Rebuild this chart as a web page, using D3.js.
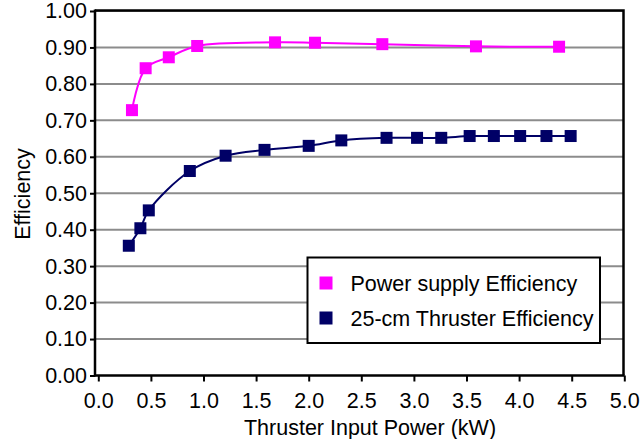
<!DOCTYPE html>
<html>
<head>
<meta charset="utf-8">
<script src="https://cdn.jsdelivr.net/npm/d3@7"></script>
<style>
  html, body { margin: 0; padding: 0; background: #fff; }
  svg { display: block; font-family: "Liberation Sans", Arial, sans-serif; }
</style>
</head>
<body>
<svg id="chart" width="642" height="439"></svg>
<script>
// ---- data ----
const psPower = [0.32, 0.45, 0.67, 0.94, 1.68, 2.06, 2.70, 3.59, 4.38];
const psEff   = [0.728, 0.843, 0.873, 0.904, 0.914, 0.913, 0.909, 0.903, 0.902];
const thPower = [0.29, 0.40, 0.48, 0.87, 1.21, 1.58, 2.00, 2.31, 2.74, 3.03, 3.26, 3.53, 3.76, 4.01, 4.26, 4.49];
const thEff   = [0.356, 0.404, 0.453, 0.561, 0.603, 0.619, 0.630, 0.645, 0.652, 0.652, 0.652, 0.657, 0.657, 0.657, 0.657, 0.657];
const xTicks = [0, 0.5, 1, 1.5, 2, 2.5, 3, 3.5, 4, 4.5, 5];
const yTicks = [0, 0.1, 0.2, 0.3, 0.4, 0.5, 0.6, 0.7, 0.8, 0.9, 1.0];
const seriesNames = ["Power supply Efficiency", "25-cm Thruster Efficiency"];
const seriesColors = ["#ff00ff", "#000066"];
const xTitle = "Thruster Input Power (kW)";
const yTitle = "Efficiency";

const FONT = "'Liberation Sans', Arial, sans-serif";
const svg = d3.select("#chart");
const frame = {left: 95, right: 623.5, top: 10.5, bottom: 375.5};
const x = d3.scaleLinear().domain([0, 5]).range([98.3, 624.3]);
const y = d3.scaleLinear().domain([0, 1]).range([375.5, 11]);

// gridlines
svg.append("g").selectAll("line").data(yTicks.filter(d => d > 0)).join("line")
  .attr("x1", frame.left).attr("x2", frame.right)
  .attr("y1", d => y(d)).attr("y2", d => y(d))
  .attr("stroke", "#8c8c8c").attr("stroke-width", 2);

// frame (top, right)
svg.append("path")
  .attr("d", `M${frame.left},${frame.top}H${frame.right}V${frame.bottom}`)
  .attr("fill", "none").attr("stroke", "#000").attr("stroke-width", 2.5);

// y axis
const yAxis = svg.append("g").attr("transform", `translate(${frame.left},0)`)
  .call(d3.axisLeft(y).tickValues(yTicks).tickFormat(d3.format(".2f")).tickSize(5).tickPadding(3));
yAxis.select(".domain").remove();
yAxis.selectAll("line").attr("stroke", "#000").attr("stroke-width", 2);
yAxis.selectAll("text").attr("font-size", 21.5).attr("fill", "#000").attr("font-family", FONT);

// x axis
const xAxis = svg.append("g").attr("transform", `translate(0,${frame.bottom})`)
  .call(d3.axisBottom(x).tickValues(xTicks).tickFormat(d3.format(".1f")).tickSize(6).tickPadding(11));
xAxis.select(".domain").remove();
xAxis.selectAll("line").attr("stroke", "#000").attr("stroke-width", 2);
xAxis.selectAll("text").attr("font-size", 21.5).attr("fill", "#000").attr("font-family", FONT);

// axis lines
svg.append("line").attr("x1", frame.left).attr("x2", frame.left)
  .attr("y1", frame.top - 1).attr("y2", frame.bottom + 1)
  .attr("stroke", "#000").attr("stroke-width", 2.5);
svg.append("line").attr("x1", frame.left - 1).attr("x2", frame.right + 1)
  .attr("y1", frame.bottom).attr("y2", frame.bottom)
  .attr("stroke", "#000").attr("stroke-width", 2.5);

// series
const series = [
  {xs: psPower, ys: psEff, color: seriesColors[0]},
  {xs: thPower, ys: thEff, color: seriesColors[1]}
];
const line = d3.line().x(d => x(d[0])).y(d => y(d[1])).curve(d3.curveCatmullRom.alpha(0.5));
const ms = 12;
series.forEach(s => {
  const pts = s.xs.map((v, i) => [v, s.ys[i]]);
  svg.append("path").datum(pts).attr("d", line)
    .attr("fill", "none").attr("stroke", s.color).attr("stroke-width", 2);
  svg.append("g").selectAll("rect").data(pts).join("rect")
    .attr("x", d => x(d[0]) - ms / 2).attr("y", d => y(d[1]) - ms / 2)
    .attr("width", ms).attr("height", ms).attr("fill", s.color);
});

// legend
const lg = svg.append("g");
lg.append("rect").attr("x", 307.5).attr("y", 257.5).attr("width", 292.5).attr("height", 85.5)
  .attr("fill", "#fff").attr("stroke", "#000").attr("stroke-width", 2);
seriesNames.forEach((name, i) => {
  const cy = 283 + i * 35;
  lg.append("rect").attr("x", 319.5).attr("y", cy - 6.5).attr("width", 13).attr("height", 13)
    .attr("fill", seriesColors[i]);
  lg.append("text").attr("x", 350.5).attr("y", cy + 7.5).attr("font-size", 21.5)
    .attr("font-family", FONT).attr("fill", "#000").text(name);
});

// titles
svg.append("text").attr("x", 370).attr("y", 435).attr("text-anchor", "middle")
  .attr("font-size", 21.5).attr("font-family", FONT).attr("fill", "#000").text(xTitle);
svg.append("text").attr("transform", "translate(30,194) rotate(-90)").attr("text-anchor", "middle")
  .attr("font-size", 21.5).attr("font-family", FONT).attr("fill", "#000").text(yTitle);
</script>
</body>
</html>
